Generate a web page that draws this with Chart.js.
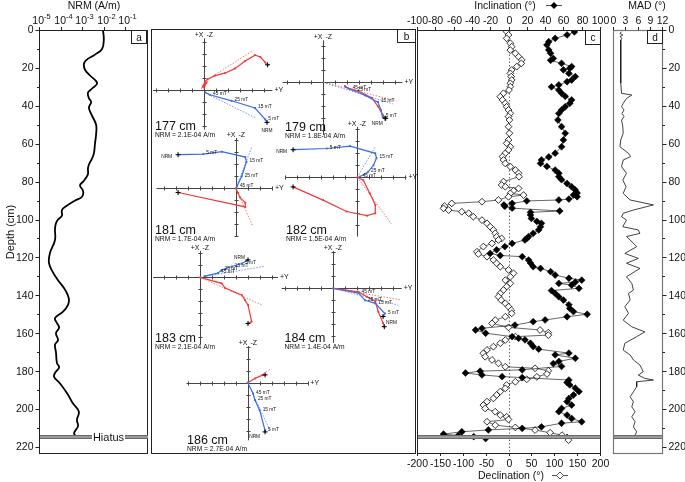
<!DOCTYPE html>
<html>
<head>
<meta charset="utf-8">
<script src="https://cdn.jsdelivr.net/npm/chart.js@4.4.1/dist/chart.umd.min.js"></script>
<style>
  html, body { margin: 0; padding: 0; background: #fff; }
  #wrap { position: relative; width: 685px; height: 482px; }
  #wrap canvas { position: absolute; left: 0; top: 0; }
</style>
</head>
<body>
<div id="wrap"></div>
<script>
// ---------- data ----------
const hiatusDepth = 215;

// panel a: NRM intensity (A/m) against depth (cm)
const nrmDepth = [0,5,10,13,16,18,21,24,28,31,33,36,38,41,45,50,55,60,65,68,71,73,76,78,80,82,85,88,90,93,95,98,100,102,105,110.8,117.8,123,128,132,137,141.6,145,148.6,152,154.7,157,160,163.6,166,170,175.8,178,181,183,186.5,191.7,197,201.4,205.8,209,212.7,214.6];
const nrmValue = [9.1e-3,1.0e-2,8.3e-3,3.9e-3,1.5e-3,1.2e-3,1.35e-3,2.3e-3,4.9e-3,2.8e-3,1.85e-3,2.05e-3,2.6e-3,2.05e-3,2.8e-3,4.4e-3,4.4e-3,3.9e-3,3.5e-3,2.8e-3,2.05e-3,1.85e-3,1.85e-3,1.5e-3,1.1e-3,7.9e-4,1.1e-3,9.8e-4,4.7e-4,1.8e-4,1.15e-4,1.15e-4,7.6e-5,6.1e-5,5.5e-5,5.5e-5,3.2e-5,2.9e-5,4.5e-5,7.6e-5,1.6e-4,2.4e-4,2.2e-4,1.3e-4,5.5e-5,6.8e-5,8.5e-5,6.1e-5,7.6e-5,5.5e-5,6.1e-5,6.8e-5,8.5e-5,5.5e-5,5.0e-5,9.4e-5,2.0e-4,3.7e-4,7.0e-4,5.7e-4,6.4e-4,4.2e-4,5.2e-4];
const nrmTicks = [1e-5, 1e-4, 1e-3, 1e-2, 1e-1];
const nrmTickExp = ['-5', '-4', '-3', '-2', '-1'];

// panel c: inclination and declination
const incDepth = [1.0,2.6,4.4,6.2,7.9,10.5,12.3,15,16,17.6,19.3,20.2,21,22.9,24.6,26.4,27.3,29,30,31.7,33.4,35,36.9,38.7,40.5,42.2,44,47.5,51,54.5,58,61.6,65,67,68.6,70.4,72,73.9,75.6,77.4,79,81,82.7,84.4,86,87,88,89.2,89.7,90.2,91.5,92.3,93,94,95.5,96.2,97.6,99.4,101,102,103.8,105.5,107.3,109,110,110.8,112.6,114.3,116,117.9,119,119.6,121.4,123,124.9,125.8,127.5,129.3,131,132,133,133.7,134.6,136.3,137.5,139,140.8,142.5,145,146.9,148.6,150,151.3,153,153.9,155.7,157.4,158.3,160,161.8,162.7,163.5,165.3,167,168.4,170.5,171.4,173.2,174.9,176,177.5,179.3,180,181,182,182.9,183.4,184.7,186,187.3,189,190.8,192.6,194.4,196.1,197.9,199.7,201.4,203.2,205,206.7,207.5,209.4,210.2,211,212,213.2,214,214.6,215.6];
const incValue = [72,64,51,44,42,44,46,49,46,58,69,67,60,66,73,69,64,55,47,55,58,62,69,67,62,58,55,54,58,62,60,58,51,44,36,35,42,51,55,55,58,64,69,73,75,71,75,66,55,20,4,-5,-4,4,56,24,24,25,31,36,35,33,27,22,20,18,4,-4,-13,-20,-9,15,22,24,27,35,46,51,66,80,73,55,69,77,47,51,55,60,66,67,71,86,64,40,27,7,-29,-36,-25,4,11,18,24,27,33,66,51,73,55,49,58,15,-31,-47,-29,-7,15,66,64,67,73,77,71,66,64,69,58,55,64,69,80,58,36,15,-22,-51,-71,-55,-38,-25];
const decDepth = [0.9,2.6,4.4,7.0,8.8,10.6,12.3,14.1,15.8,17.6,19.3,21.1,22.9,24.6,26.4,28.1,29.9,31.7,33.4,35.2,36.9,38.7,40.5,42.2,44,45.7,47.5,51,54.5,58,59.8,61.6,63.3,65.1,66.8,68.6,70.4,72.1,73.9,75.6,77.4,80,81.8,82.7,83.6,84.8,86.2,87.1,88,89.7,90.6,91.5,92.9,94.1,95,95.9,96.7,98.5,100.3,102,103.8,105.5,107.3,109.1,110,110.8,112.6,114.3,117,118.2,119.6,121.4,123.1,124.9,126.6,128.4,130.2,132,133.7,135.4,137.2,139,140.7,142.5,144.2,146,147.8,149.5,151.3,153.1,154.8,156.9,158.3,159.7,161,161.8,163.6,165.3,167.1,168.8,170.6,172.4,174.1,175.9,177.7,178.5,179.8,181.5,183,184.3,185.6,187.3,189.1,190.8,192.6,194.4,196.1,197.9,199.7,201.4,203.2,204.1,205.5,206.7,208.5,209.7,211.1,212.5,213.8,215,216.4];
const decValue = [-4,0,-4,4,7,4,15,22,29,28,18,7,4,6,7,4,4,1,-11,-18,-13,-7,-4,0,4,0,2,0,2,0,-4,4,0,-7,-13,-11,-7,4,15,22,23,-11,-15,-7,22,11,4,33,0,-22,-58,-124,-140,-142,-131,-102,-87,-77,-58,-47,-40,-33,-29,-26,-15,-22,-36,-55,-69,-66,-47,-33,-26,-18,0,11,4,-7,4,-4,-11,-18,-22,-16,-7,0,6,7,-7,-29,-36,0,69,87,87,15,-7,-18,-33,-47,-55,-51,-36,-22,-7,58,87,84,62,40,15,-4,-7,-18,-26,-33,-47,-55,-51,-29,-18,-4,0,-47,-29,15,58,91,117,128,131];
const incTicks = [-100,-80,-60,-40,-20,0,20,40,60,80,100];
const decTicks = [-200,-150,-100,-50,0,50,100,150,200];

// panel d: MAD
const madDepth = [0.9,1.8,2.6,3.5,4.4,5.3,10.6,19.3,28.1,33.4,34.3,36.1,38.7,40.5,42.2,44,45.7,47.5,51,54.5,58,61.6,65.1,66.8,68.6,72.1,75.6,79.2,82.7,86.2,89.7,92.3,95,96.7,98.5,100.3,103.8,105.5,107.3,109,110.8,114.3,117.9,120.5,123.1,125.8,130.2,133.7,137.2,139,142.5,146,149.5,153.1,156.6,159.3,161.8,165.3,168.9,171.5,174.1,176.8,178.5,180.3,182.1,183.8,184.7,185.6,188.3,190.9,193.5,196.2,198.8,201.4,204.1,206.7,209.4,212,213.8];
const madValue = [2.1,1.7,2.4,1.7,2.2,1.9,1.9,1.9,1.9,2.1,4.6,3.3,2.5,2.1,2.7,2.2,2.7,2.1,2.4,2.5,1.9,1.7,3.8,4.3,2.5,2.1,3.3,2.4,3.2,2.5,4.2,9.9,5.0,2.5,2.1,3.3,2.4,6.2,6.6,3.3,4.2,5.8,2.9,6.2,3.3,6.6,3.3,4.6,5.0,3.8,4.2,2.9,3.8,2.5,4.6,7.8,5.8,2.9,2.5,4.2,5.0,6.6,7.0,7.4,6.2,7.8,9.9,5.8,5.8,5.0,4.2,5.0,4.6,5.4,4.6,5.4,5.0,5.8,5.4];
const madTicks = [0, 3, 6, 9, 12];
const depthTicks = [0,20,40,60,80,100,120,140,160,180,200,220];

// panel b: orthogonal (Zijderveld) projections, in tick units
// hor = horizontal projection (blue), ver = vertical projection (red), first point is NRM
const zij177Hor = [[5.25,-2.7],[5.1,-2.45],[4.25,-1.5],[2.3,-0.9],[0.5,-0.4],[0.1,-0.2]];
const zij177Steps = ['NRM','5 mT','15 mT','25 mT','45 mT',''];
const zij177Ver = [[5.3,2.1],[5.1,2.3],[4.7,2.75],[4.25,2.9],[3.4,2.4],[2.6,1.8],[1.75,1.4],[0.9,1.2],[0.3,0.9],[0.1,0.7],[-0.1,0.3],[0.2,0.6],[0,0.2]];
const zij177HorFit = [[0.1,-0.25],[4.25,-2.3]];
const zij177VerFit = [[0.5,1.0],[4.1,3.3]];

const zij179Hor = [[5.2,-3.0],[4.95,-2.9],[4.8,-2.3],[4.55,-1.65],[3.5,-1.1],[2.6,-0.7],[2.2,-0.55],[1.9,-0.4]];
const zij179Steps = ['NRM','5 mT','','15 mT','','25 mT','45 mT',''];
const zij179Ver = [[5.15,-3.0],[4.95,-2.7],[4.55,-2.0],[4.05,-1.3],[2.9,-0.7],[2.4,-0.6],[2.05,-0.5],[1.8,-0.3]];
const zij179HorFit = [[0,0],[5.8,-1.8]];
const zij179VerFit = [[0,0],[6.1,-1.55]];

const zij181Hor = [[-4.8,2.8],[-2.7,2.85],[-1.15,3.05],[0.8,2.6],[0.9,2.2],[0.5,1.0],[0.1,0.15]];
const zij181Steps = ['NRM','5 mT','','','15 mT','25 mT','45 mT'];
const zij181Ver = [[-4.8,-0.35],[0.8,-1.55],[0.8,-1.2],[0.35,-0.75],[0.2,-0.4],[0,0]];
const zij181HorFit = [[0,0],[1.35,3.45]];
const zij181VerFit = [[0,0],[1.4,-3.1]];

const zij182Hor = [[-5.35,2.3],[-2.55,2.4],[-0.6,2.6],[1.5,2.0],[1.6,1.6],[1.35,1.0],[0.9,0.45],[0.2,0.05]];
const zij182Steps = ['NRM','5 mT','','','15 mT','','25 mT','45 mT'];
const zij182Ver = [[-5.35,-0.8],[-2.85,-1.9],[-0.9,-2.85],[0.8,-3.2],[1.5,-3.0],[1.5,-2.3],[1.05,-1.35],[0.5,-0.25],[0,0]];
const zij182HorFit = [[0,0],[1.5,2.55]];
const zij182VerFit = [[0,0],[2.85,-3.9]];

const zij183Hor = [[4.0,1.45],[3.5,1.15],[2.65,0.9],[1.8,0.6],[1.5,0.35],[0.4,0.1]];
const zij183Steps = ['NRM','5 mT','15 mT','25 mT','45 mT',''];
const zij183Ver = [[4.0,-3.85],[4.3,-3.7],[4.0,-2.3],[3.75,-1.9],[3.5,-1.5],[2.1,-0.9],[1.8,-0.5],[0,0]];
const zij183HorFit = [[0,0],[5.3,0.9]];
const zij183VerFit = [[0,0],[5.15,-2.3]];

const zij184Hor = [[4.15,-2.35],[4.3,-2.1],[3.5,-1.25],[2.65,-1.0],[2.1,-0.4],[0,0]];
const zij184Steps = ['NRM','5 mT','15 mT','25 mT','45 mT',''];
const zij184Ver = [[4.25,-3.2],[4.15,-2.9],[3.75,-1.95],[3.5,-1.1],[2.8,-0.7],[2.1,-0.3],[0,0]];
const zij184HorFit = [[0,0],[5.4,-1.4]];
const zij184VerFit = [[0,0],[5.55,-0.95]];

const zij186Hor = [[1.45,-4.1],[1.45,-4.0],[1.0,-2.3],[0.6,-1.45],[0.45,-0.9],[0,0]];
const zij186Steps = ['NRM','5 mT','15 mT','25 mT','45 mT',''];
const zij186Ver = [[1.45,0.65],[1.3,0.65],[0.6,0.35],[0,0]];
const zij186HorFit = [[0,0],[1.85,-3.95]];
const zij186VerFit = [[0,0],[1.85,1.1]];

const zijDepthText = ['177 cm','179 cm','181 cm','182 cm','183 cm','184 cm','186 cm'];
const zijNrmText = ['NRM = 2.1E-04 A/m','NRM = 1.8E-04 A/m','NRM = 1.7E-04 A/m','NRM = 1.5E-04 A/m','NRM = 2.1E-04 A/m','NRM = 1.4E-04 A/m','NRM = 2.7E-04 A/m'];

// ---------- layout ----------
const W = 685, H = 482;
const FONT = "'Liberation Sans', Arial, sans-serif";
const RED = '#f03a3a', BLUE = '#3a6be6';
const PPU = 12; // px per tick unit in the projections

// origin, axis extents (tick units), text anchor, NRM label offset
const zijLayout = [
  { ox: 204,   oy: 90,    xmin: -4.25, xmax: 5.7,  ymin: -3.3, ymax: 4.3,  tx: 155,   ty: 130,   nrm: [0, 8, 'center'] },
  { ox: 323.3, oy: 82.3,  xmin: -3.4,  xmax: 6.6,  ymin: -4.4, ymax: 3.5,  tx: 285,   ty: 131,   nrm: [-3, 5, 'right'] },
  { ox: 235.7, oy: 188.3, xmin: -6.6,  xmax: 3.1,  ymin: -4.0, ymax: 4.2,  tx: 155,   ty: 234,   nrm: [-6, 2, 'right'] },
  { ox: 357.3, oy: 177.3, xmin: -6.0,  xmax: 4.1,  ymin: -4.95, ymax: 4.2, tx: 286,   ty: 234,   nrm: [-6, 2, 'right'] },
  { ox: 200,   oy: 277.3, xmin: -3.9,  xmax: 6.5,  ymin: -5.6, ymax: 2.2,  tx: 155,   ty: 342,   nrm: [-3, -2, 'right'] },
  { ox: 333.3, oy: 288.3, xmin: -4.3,  xmax: 5.7,  ymin: -4.55, ymax: 3.1, tx: 284.5, ty: 342,   nrm: [3, 6, 'left'] },
  { ox: 247.7, oy: 382.7, xmin: -5.1,  xmax: 5.05, ymin: -4.8, ymax: 3.05, tx: 187,   ty: 443.5, nrm: [-5, 5, 'right'] }
];
const zijSets = [
  [zij177Hor, zij177Steps, zij177Ver, zij177HorFit, zij177VerFit],
  [zij179Hor, zij179Steps, zij179Ver, zij179HorFit, zij179VerFit],
  [zij181Hor, zij181Steps, zij181Ver, zij181HorFit, zij181VerFit],
  [zij182Hor, zij182Steps, zij182Ver, zij182HorFit, zij182VerFit],
  [zij183Hor, zij183Steps, zij183Ver, zij183HorFit, zij183VerFit],
  [zij184Hor, zij184Steps, zij184Ver, zij184HorFit, zij184VerFit],
  [zij186Hor, zij186Steps, zij186Ver, zij186HorFit, zij186VerFit]
];

function makeCanvas() {
  const c = document.createElement('canvas');
  c.width = W; c.height = H;
  c.style.width = W + 'px'; c.style.height = H + 'px';
  document.getElementById('wrap').appendChild(c);
  return c;
}

function baseOptions(box, scales) {
  return {
    responsive: false,
    animation: false,
    devicePixelRatio: 1,
    layout: { autoPadding: false, padding: { left: box[0], top: box[1], right: W - box[2], bottom: H - box[3] } },
    plugins: { legend: { display: false }, tooltip: { enabled: false } },
    scales: scales
  };
}

function pairs(depths, values) {
  return depths.map((d, i) => ({ x: values[i], y: d }));
}

function font(size) { return size + 'px ' + FONT; }

function line(ctx, x1, y1, x2, y2) {
  ctx.beginPath(); ctx.moveTo(x1, y1); ctx.lineTo(x2, y2); ctx.stroke();
}

function letterBox(ctx, x, y, w, h, txt) {
  ctx.fillStyle = '#fff';
  ctx.fillRect(x, y, w, h);
  ctx.strokeStyle = '#222'; ctx.lineWidth = 1;
  ctx.strokeRect(x + .5, y + .5, w - 1, h - 1);
  ctx.fillStyle = '#111'; ctx.font = font(10);
  ctx.textAlign = 'center'; ctx.textBaseline = 'middle';
  ctx.fillText(txt, x + w / 2, y + h / 2 + 1);
}

function hiatus(ctx, yScale, x1, x2) {
  const y = Math.round(yScale.getPixelForValue(hiatusDepth));
  ctx.fillStyle = '#6a6a6a';
  ctx.fillRect(x1, y - 2, x2 - x1, 4);
  ctx.fillStyle = '#c9c9c9';
  ctx.fillRect(x1, y - 0.5, x2 - x1, 1);
}

function depthAxis(ctx, yScale, x, dir, withLabels) {
  ctx.strokeStyle = '#222'; ctx.lineWidth = 1;
  ctx.fillStyle = '#111'; ctx.font = font(10.5);
  ctx.textBaseline = 'middle';
  for (let d = 0; d <= 220; d += 10) {
    const y = Math.round(yScale.getPixelForValue(d)) + .5;
    const len = d % 20 === 0 ? 4 : 2.5;
    line(ctx, x, y, x + dir * len, y);
  }
  if (!withLabels) return;
  ctx.textAlign = dir < 0 ? 'right' : 'left';
  depthTicks.forEach(d => {
    ctx.fillText(String(d), x + dir * 6, yScale.getPixelForValue(d) + 0.5);
  });
}

// ---------- panel a ----------
const panelA = {
  id: 'panelA',
  afterDraw(chart) {
    const { ctx, chartArea: a, scales: { x, y } } = chart;
    ctx.save();
    ctx.strokeStyle = '#222'; ctx.lineWidth = 1;
    ctx.strokeRect(a.left + .5, a.top + .5, a.width, a.height);
    depthAxis(ctx, y, a.left + .5, -1, true);
    // top log axis
    nrmTicks.forEach((v, i) => {
      const px = Math.round(x.getPixelForValue(v)) + .5;
      line(ctx, px, a.top, px, a.top - 3);
      ctx.font = font(10.5);
      const w1 = ctx.measureText('10').width;
      ctx.font = font(7.5);
      const w2 = ctx.measureText(nrmTickExp[i]).width;
      const sx = px - (w1 + w2) / 2 + 2;
      ctx.textAlign = 'left'; ctx.textBaseline = 'alphabetic'; ctx.fillStyle = '#111';
      ctx.font = font(10.5); ctx.fillText('10', sx, 24);
      ctx.font = font(7.5); ctx.fillText(nrmTickExp[i], sx + w1, 19);
    });
    ctx.font = font(10.5); ctx.textAlign = 'center';
    ctx.fillText('NRM (A/m)', (a.left + a.right) / 2 + 1, 9);
    // depth title
    ctx.save();
    ctx.translate(11, 232); ctx.rotate(-Math.PI / 2);
    ctx.font = font(11); ctx.textAlign = 'center'; ctx.textBaseline = 'middle';
    ctx.fillText('Depth (cm)', 0, 0);
    ctx.restore();
    // hiatus
    hiatus(ctx, y, a.left + 1, a.right + 1);
    ctx.fillStyle = '#fff'; ctx.fillRect(92, y.getPixelForValue(hiatusDepth) - 6, 33, 12);
    ctx.fillStyle = '#111'; ctx.font = font(11); ctx.textAlign = 'center'; ctx.textBaseline = 'middle';
    ctx.fillText('Hiatus', 108.5, y.getPixelForValue(hiatusDepth) + 0.5);
    letterBox(ctx, 131, 30, 16, 14, 'a');
    // panel b frame
    ctx.strokeStyle = '#222'; ctx.lineWidth = 1;
    ctx.strokeRect(151.5, 29.5, 264, 424);
    letterBox(ctx, 397, 29, 19, 14, 'b');
    ctx.restore();
  }
};

new Chart(makeCanvas(), {
  type: 'scatter',
  data: {
    datasets: [{
      data: pairs(nrmDepth, nrmValue),
      showLine: true,
      borderColor: '#000',
      borderWidth: 1.8,
      tension: 0.4,
      pointRadius: 0
    }]
  },
  options: baseOptions([39, 30, 147, 453], {
    x: { type: 'logarithmic', display: false, min: 1e-5, max: 1 },
    y: { type: 'linear', display: false, min: 0, max: 223.2, reverse: true }
  }),
  plugins: [panelA]
});

// ---------- panel c ----------
const panelC = {
  id: 'panelC',
  beforeDatasetsDraw(chart) {
    const { ctx, chartArea: a, scales: { x } } = chart;
    ctx.save();
    ctx.strokeStyle = '#444'; ctx.lineWidth = 0.8; ctx.setLineDash([1.5, 2]);
    const px = Math.round(x.getPixelForValue(0)) + .5;
    line(ctx, px, a.top, px, a.bottom);
    ctx.restore();
  },
  afterDraw(chart) {
    const { ctx, chartArea: a, scales: { x, x2, y } } = chart;
    ctx.save();
    hiatus(ctx, y, a.left, a.right);
    ctx.strokeStyle = '#222'; ctx.lineWidth = 1;
    ctx.strokeRect(a.left + .5, a.top + .5, a.width, a.height);
    ctx.fillStyle = '#111'; ctx.font = font(10.5); ctx.textAlign = 'center';
    incTicks.forEach(v => {
      const px = Math.round(x.getPixelForValue(v)) + .5;
      line(ctx, px, a.top, px, a.top - 3);
      ctx.fillText(String(v), px, 24);
    });
    decTicks.forEach(v => {
      const px = Math.round(x2.getPixelForValue(v)) + .5;
      line(ctx, px, a.bottom, px, a.bottom + 3);
      ctx.fillText(String(v), px, 467);
    });
    ctx.font = font(10.5);
    ctx.fillText('Inclination (\u00b0)', 505, 9);
    ctx.fillText('Declination (\u00b0)', 511, 479);
    // legend glyphs
    ctx.lineWidth = 0.8;
    line(ctx, 546, 5.5, 562, 5.5);
    line(ctx, 552, 475.5, 568, 475.5);
    ctx.beginPath();
    ctx.moveTo(554, 2); ctx.lineTo(557.5, 5.5); ctx.lineTo(554, 9); ctx.lineTo(550.5, 5.5); ctx.closePath();
    ctx.fillStyle = '#000'; ctx.fill();
    ctx.beginPath();
    ctx.moveTo(560, 472); ctx.lineTo(563.5, 475.5); ctx.lineTo(560, 479); ctx.lineTo(556.5, 475.5); ctx.closePath();
    ctx.fillStyle = '#fff'; ctx.fill(); ctx.stroke();
    letterBox(ctx, 585, 30, 16, 15, 'c');
    ctx.restore();
  }
};

new Chart(makeCanvas(), {
  type: 'scatter',
  data: {
    datasets: [
      {
        data: pairs(incDepth, incValue),
        xAxisID: 'x',
        showLine: true,
        borderColor: '#000', borderWidth: 0.6,
        pointStyle: 'rectRot', pointRadius: 3.4,
        pointBackgroundColor: '#000', pointBorderColor: '#000', pointBorderWidth: 0.6
      },
      {
        data: pairs(decDepth, decValue),
        xAxisID: 'x2',
        showLine: true,
        borderColor: '#000', borderWidth: 0.6,
        pointStyle: 'rectRot', pointRadius: 3.4,
        pointBackgroundColor: '#fff', pointBorderColor: '#000', pointBorderWidth: 0.8
      }
    ]
  },
  options: baseOptions([417, 30, 600, 453], {
    x: { type: 'linear', display: false, min: -100, max: 100 },
    x2: { type: 'linear', display: false, min: -200, max: 200 },
    y: { type: 'linear', display: false, min: 0, max: 223.2, reverse: true }
  }),
  plugins: [panelC]
});

// ---------- panel d ----------
const panelD = {
  id: 'panelD',
  afterDraw(chart) {
    const { ctx, chartArea: a, scales: { x, y } } = chart;
    ctx.save();
    hiatus(ctx, y, a.left, a.right);
    ctx.strokeStyle = '#777'; ctx.lineWidth = 1.2;
    ctx.strokeRect(a.left + .5, a.top + .5, a.width, a.height);
    depthAxis(ctx, y, a.right + .5, 1, true);
    ctx.strokeStyle = '#222'; ctx.lineWidth = 1;
    ctx.fillStyle = '#111'; ctx.font = font(10.5); ctx.textAlign = 'center'; ctx.textBaseline = 'alphabetic';
    madTicks.forEach(v => {
      const px = Math.round(x.getPixelForValue(v)) + .5;
      line(ctx, px, a.top, px, a.top - 3);
      ctx.fillText(String(v), px, 24);
    });
    ctx.fillText('MAD (\u00b0)', 647, 9);
    letterBox(ctx, 647, 30, 16, 14, 'd');
    ctx.restore();
  }
};

new Chart(makeCanvas(), {
  type: 'scatter',
  data: {
    datasets: [{
      data: pairs(madDepth, madValue),
      showLine: true,
      borderColor: '#111', borderWidth: 0.8,
      pointRadius: 0
    }]
  },
  options: baseOptions([613, 30, 662, 453], {
    x: { type: 'linear', display: false, min: 0, max: 12 },
    y: { type: 'linear', display: false, min: 0, max: 223.2, reverse: true }
  }),
  plugins: [panelD]
});

// ---------- panel b: orthogonal projections ----------
function toPoints(arr) { return arr.map(p => ({ x: p[0], y: p[1] })); }

const zijPlugin = {
  id: 'zij',
  beforeDatasetsDraw(chart, args, opts) {
    const { ctx, chartArea: a, scales: { x, y } } = chart;
    const ox = Math.round(x.getPixelForValue(0)) + .5;
    const oy = Math.round(y.getPixelForValue(0)) + .5;
    ctx.save();
    ctx.strokeStyle = '#444'; ctx.lineWidth = 1;
    line(ctx, a.left, oy, a.right, oy);
    line(ctx, ox, a.top, ox, a.bottom);
    for (let u = Math.ceil(x.min); u <= Math.floor(x.max); u++) {
      if (u === 0) continue;
      const px = Math.round(x.getPixelForValue(u)) + .5;
      line(ctx, px, oy - 2, px, oy + 2);
    }
    for (let u = Math.ceil(y.min); u <= Math.floor(y.max); u++) {
      if (u === 0) continue;
      const py = Math.round(y.getPixelForValue(u)) + .5;
      line(ctx, ox - 2, py, ox + 2, py);
    }
    ctx.fillStyle = '#111'; ctx.font = font(7); ctx.textBaseline = 'alphabetic';
    ctx.textAlign = 'right'; ctx.fillText('+X', ox - 1, a.top - 1);
    ctx.textAlign = 'left'; ctx.fillText('-Z', ox + 2, a.top - 1);
    ctx.textBaseline = 'middle'; ctx.fillText('+Y', a.right + 2, oy);
    ctx.restore();
  },
  afterDraw(chart, args, opts) {
    const { ctx } = chart;
    const L = opts.layout;
    const hor = chart.getDatasetMeta(3).data;
    ctx.save();
    ctx.fillStyle = '#111';
    ctx.font = font(4.8); ctx.textBaseline = 'middle';
    opts.steps.forEach((s, i) => {
      if (!s || !hor[i]) return;
      const p = hor[i];
      if (s === 'NRM') {
        ctx.textAlign = L.nrm[2];
        ctx.fillText(s, p.x + L.nrm[0], p.y + L.nrm[1]);
      } else {
        ctx.textAlign = 'left';
        ctx.fillText(s, p.x + 3, p.y - 1);
      }
    });
    ctx.textAlign = 'left'; ctx.textBaseline = 'alphabetic';
    ctx.font = font(12.5); ctx.fillText(opts.depth, L.tx, L.ty);
    ctx.font = font(6.7); ctx.fillText(opts.nrmText, L.tx, L.ty + 7);
    ctx.restore();
  }
};

zijSets.forEach((set, i) => {
  const L = zijLayout[i];
  const [hor, steps, ver, horFit, verFit] = set;
  const box = [L.ox + L.xmin * PPU, L.oy - L.ymax * PPU, L.ox + L.xmax * PPU, L.oy - L.ymin * PPU];
  const opts = baseOptions(box, {
    x: { type: 'linear', display: false, min: L.xmin, max: L.xmax },
    y: { type: 'linear', display: false, min: L.ymin, max: L.ymax }
  });
  opts.plugins.zij = { layout: L, steps: steps, depth: zijDepthText[i], nrmText: zijNrmText[i] };
  new Chart(makeCanvas(), {
    type: 'scatter',
    data: {
      datasets: [
        { data: [toPoints(ver)[0], toPoints(hor)[0]], pointStyle: 'cross', pointRadius: 2.5, borderColor: '#000', pointBorderWidth: 1, showLine: false, clip: false },
        { data: toPoints(verFit), showLine: true, borderColor: 'rgba(242,80,80,0.85)', borderWidth: 0.9, borderDash: [1.5, 1.5], pointRadius: 0, clip: false },
        { data: toPoints(horFit), showLine: true, borderColor: 'rgba(70,120,235,0.85)', borderWidth: 0.9, borderDash: [1.5, 1.5], pointRadius: 0, clip: false },
        { data: toPoints(hor), showLine: true, borderColor: BLUE, backgroundColor: BLUE, borderWidth: 1.2, pointStyle: 'rect', pointRadius: 1.3, pointBorderWidth: 0, clip: false },
        { data: toPoints(ver), showLine: true, borderColor: RED, backgroundColor: RED, borderWidth: 1.2, pointStyle: 'rect', pointRadius: 1.3, pointBorderWidth: 0, clip: false }
      ]
    },
    options: opts,
    plugins: [zijPlugin]
  });
});
</script>
</body>
</html>
